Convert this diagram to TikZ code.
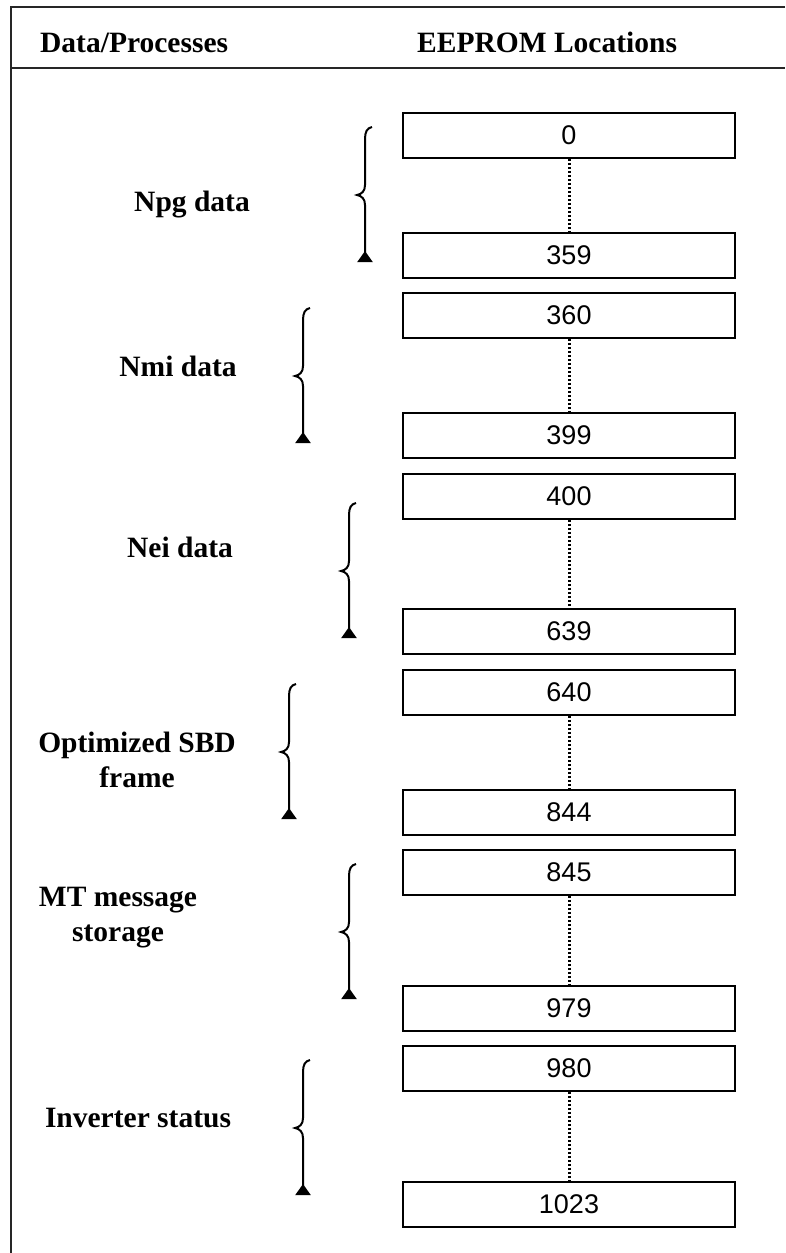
\documentclass[tikz,border=0pt]{standalone}
\usepackage{fontspec}
\setmainfont{Liberation Serif}
\newfontfamily\numfont{Liberation Sans}
\usetikzlibrary{arrows.meta}
\begin{document}
\begin{tikzpicture}[x=1pt,y=-1pt,
  loc/.style={draw=black, line width=1.5pt, minimum width=332pt, minimum height=45pt, inner sep=0pt, font=\numfont\fontsize{27}{32}\selectfont},
  lbl/.style={font=\bfseries\fontsize{29.5}{35}\selectfont, align=center, inner sep=0pt, anchor=base},
  hdr/.style={font=\bfseries\fontsize{29.5}{35}\selectfont, inner sep=0pt, anchor=base west},
  gapline/.style={line width=3pt, dash pattern=on 2.5pt off 1.5pt},
  frameline/.style={line width=2pt, draw=black!85},
  brc/.pic={\draw[line width=2pt, -{Triangle[reversed,width=15pt,length=11pt]}]
     (7,0) .. controls (2,1) and (0,5) .. (0,12) -- (0,58)
     .. controls (0,64) and (-3,67) .. (-8,68)
     .. controls (-3,69) and (0,72) .. (0,78) -- (0,135);}
]
\fill[white] (0,0) rectangle (785,1253);
\useasboundingbox (0,0) rectangle (785,1253);

% frame
\draw[frameline] (785,7) -- (11,7) -- (11,1253);
\draw[frameline] (11,68) -- (785,68);

% headers
\node[hdr] (h1) at (40,52) {Data/Processes};
\node[hdr] (h2) at (417,52) {EEPROM Locations};

% location boxes
\node[loc] (b0)    at (569,135.5)  {0};
\node[loc] (b359)  at (569,255.5)  {359};
\node[loc] (b360)  at (569,315.5)  {360};
\node[loc] (b399)  at (569,435.5)  {399};
\node[loc] (b400)  at (569,496.5)  {400};
\node[loc] (b639)  at (569,631.5)  {639};
\node[loc] (b640)  at (569,692.5)  {640};
\node[loc] (b844)  at (569,812.5)  {844};
\node[loc] (b845)  at (569,872.5)  {845};
\node[loc] (b979)  at (569,1008.5) {979};
\node[loc] (b980)  at (569,1068.5) {980};
\node[loc] (b1023) at (569,1204.5) {1023};

% dotted ranges
\draw[gapline] (b0.south)   -- (b359.north);
\draw[gapline] (b360.south) -- (b399.north);
\draw[gapline] (b400.south) -- (b639.north);
\draw[gapline] (b640.south) -- (b844.north);
\draw[gapline] (b845.south) -- (b979.north);
\draw[gapline] (b980.south) -- (b1023.north);

% braces
\pic at (365,127)  {brc};
\pic at (303,308)  {brc};
\pic at (349,503)  {brc};
\pic at (289,684)  {brc};
\pic at (349,864)  {brc};
\pic at (303,1060) {brc};

% labels
\node[lbl] (l1) at (192,211)  {Npg data};
\node[lbl] (l2) at (178,376)  {Nmi data};
\node[lbl] (l3) at (180,557)  {Nei data};
\node[lbl] (l4) at (137,787)  {Optimized SBD\\frame};
\node[lbl] (l5) at (118,941)  {MT message\\storage};
\node[lbl] (l6) at (138,1127) {Inverter status};
\end{tikzpicture}
\end{document}
